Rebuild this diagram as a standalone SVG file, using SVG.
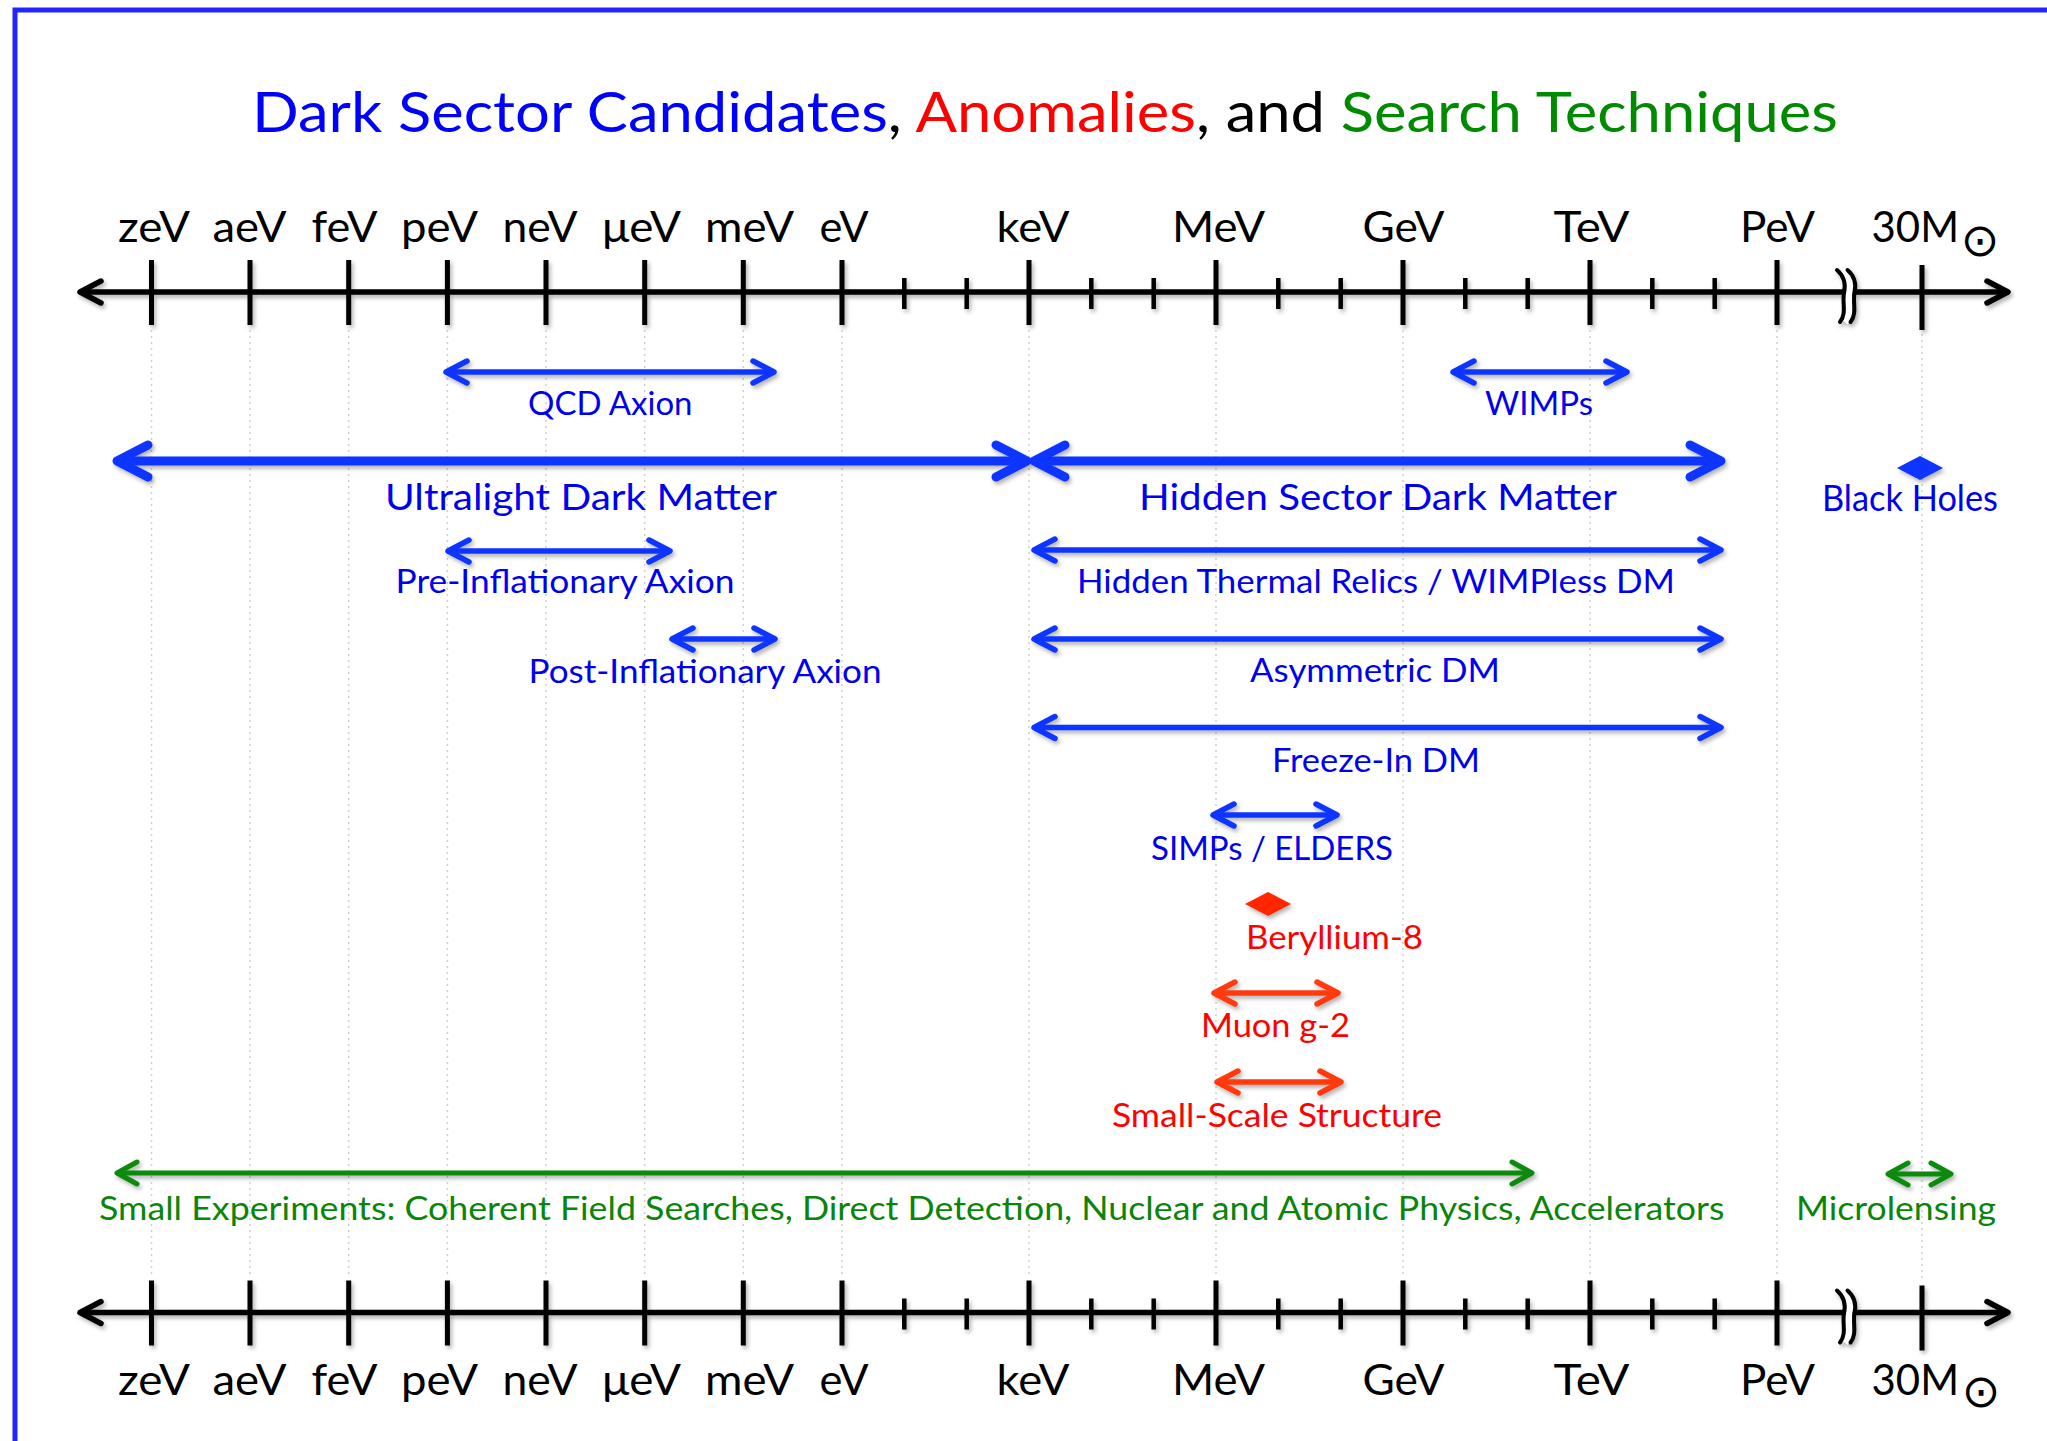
<svg xmlns="http://www.w3.org/2000/svg" width="2047" height="1441" viewBox="0 0 2047 1441">
  <defs>
    <style>
      text { font-family: Lato, "Open Sans", "Liberation Sans", sans-serif; }
      .tick { font-size: 42px; fill: #000; }
      .big { font-size: 37px; }
      .med { font-size: 33px; }
      .blue { fill: #0000f0; }
      .red { fill: #ff0000; }
      .green { fill: #0a850a; }
      .sun { font-family: "DejaVu Sans", sans-serif; font-size: 46px; fill: #000; }
      .sh { filter: url(#sh); }
      .grid { stroke: #cfcfcf; stroke-width: 1.5; stroke-dasharray: 2 4; fill: none; }
      .ax { stroke: #000; stroke-width: 5.5; fill: none; marker-start: url(#mK); marker-end: url(#mK); }
      .major { stroke: #000; stroke-width: 5; fill: none; }
      .minor { stroke: #000; stroke-width: 4.5; fill: none; }
      .ab { stroke: #0a36ff; stroke-width: 5.5; fill: none; marker-start: url(#mB); marker-end: url(#mB); }
      .abb { stroke: #0a36ff; stroke-width: 9; fill: none; marker-start: url(#mBB); marker-end: url(#mBB); }
      .ar { stroke: #ff3a10; stroke-width: 5.5; fill: none; marker-start: url(#mR); marker-end: url(#mR); }
      .ag { stroke: #0b8a0b; stroke-width: 5; fill: none; marker-start: url(#mG); marker-end: url(#mG); }
    </style>
    <filter id="sh" filterUnits="userSpaceOnUse" x="0" y="0" width="2047" height="1441">
      <feDropShadow dx="2" dy="3" stdDeviation="2" flood-color="#000" flood-opacity="0.3"/>
    </filter>
    <marker id="mK" markerUnits="userSpaceOnUse" orient="auto-start-reverse" overflow="visible" refX="0" refY="0" markerWidth="1" markerHeight="1">
      <path d="M-21,-11 L0,0 L-21,11" fill="none" stroke="#000" stroke-width="5.5" stroke-linecap="round" stroke-linejoin="round"/>
    </marker>
    <marker id="mB" markerUnits="userSpaceOnUse" orient="auto-start-reverse" overflow="visible" refX="0" refY="0" markerWidth="1" markerHeight="1">
      <path d="M-21,-11 L0,0 L-21,11" fill="none" stroke="#0a36ff" stroke-width="5.5" stroke-linecap="round" stroke-linejoin="round"/>
    </marker>
    <marker id="mBB" markerUnits="userSpaceOnUse" orient="auto-start-reverse" overflow="visible" refX="0" refY="0" markerWidth="1" markerHeight="1">
      <path d="M-31,-16 L0,0 L-31,16" fill="none" stroke="#0a36ff" stroke-width="9" stroke-linecap="round" stroke-linejoin="round"/>
    </marker>
    <marker id="mR" markerUnits="userSpaceOnUse" orient="auto-start-reverse" overflow="visible" refX="0" refY="0" markerWidth="1" markerHeight="1">
      <path d="M-21,-11 L0,0 L-21,11" fill="none" stroke="#ff3a10" stroke-width="5.5" stroke-linecap="round" stroke-linejoin="round"/>
    </marker>
    <marker id="mG" markerUnits="userSpaceOnUse" orient="auto-start-reverse" overflow="visible" refX="0" refY="0" markerWidth="1" markerHeight="1">
      <path d="M-20,-11 L0,0 L-20,11" fill="none" stroke="#0b8a0b" stroke-width="5" stroke-linecap="round" stroke-linejoin="round"/>
    </marker>

    <!-- energy axis: line, decade ticks, sub-ticks, scale break, 30 solar mass tick -->
    <g id="axis">
      <path class="ax" d="M80,292 H2008"/>
      <path class="major" d="M151.5,260V325 M250,260V325 M348.7,260V325 M447.4,260V325 M546,260V325 M644.7,260V325 M743.3,260V325 M842,260V325 M1029,260V325 M1216,260V325 M1403,260V325 M1590,260V325 M1777,260V325 M1922,265V330"/>
      <path class="minor" d="M904.3,278V309 M966.7,278V309 M1091.3,278V309 M1153.7,278V309 M1278.3,278V309 M1340.7,278V309 M1465.3,278V309 M1527.7,278V309 M1652.3,278V309 M1714.7,278V309"/>
      <path d="M1842,270 C1849,276 1851,284 1849,293 C1847,303 1852,313 1845,322" fill="none" stroke="#fff" stroke-width="7"/>
      <path d="M1837,270 C1844,276 1846,284 1844,293 C1842,303 1847,313 1840,322 M1847.5,270 C1854.5,276 1856.5,284 1854.5,293 C1852.5,303 1857.5,313 1850.5,322" fill="none" stroke="#000" stroke-width="4" stroke-linecap="round"/>
    </g>
  </defs>

  <rect x="0" y="0" width="2047" height="1441" fill="#fff"/>
  <rect id="frame" x="15" y="10" width="2100" height="1500" fill="none" stroke="#2424ff" stroke-width="5"/>

  <g id="title">
    <text x="252" y="132" font-size="56" textLength="1586" lengthAdjust="spacingAndGlyphs"><tspan fill="#0000ff">Dark Sector Candidates</tspan><tspan fill="#000">, </tspan><tspan fill="#ff0000">Anomalies</tspan><tspan fill="#000">, and </tspan><tspan fill="#008a00">Search Techniques</tspan></text>
  </g>

  <g id="gridlines">
    <path class="grid" d="M151.5,330V1278 M250,330V1278 M348.7,330V1278 M447.4,330V1278 M546,330V1278 M644.7,330V1278 M743.3,330V1278 M842,330V1278 M1029,330V1278 M1216,330V1278 M1403,330V1278 M1590,330V1278 M1777,330V1278 M1922,334V1282"/>
  </g>

  <g id="axis-top" class="sh">
    <use href="#axis"/>
  </g>
  <g id="axis-bottom" class="sh">
    <use href="#axis" transform="translate(0,1020.5)"/>
  </g>

  <g id="labels-top" text-anchor="middle">
    <text class="tick" x="154" y="242" textLength="72" lengthAdjust="spacingAndGlyphs">zeV</text>
    <text class="tick" x="249.5" y="242" textLength="74" lengthAdjust="spacingAndGlyphs">aeV</text>
    <text class="tick" x="344.5" y="242" textLength="66" lengthAdjust="spacingAndGlyphs">feV</text>
    <text class="tick" x="439.5" y="242" textLength="77" lengthAdjust="spacingAndGlyphs">peV</text>
    <text class="tick" x="540" y="242" textLength="75" lengthAdjust="spacingAndGlyphs">neV</text>
    <text class="tick" x="641.5" y="242" textLength="79" lengthAdjust="spacingAndGlyphs">μeV</text>
    <text class="tick" x="749.5" y="242" textLength="89" lengthAdjust="spacingAndGlyphs">meV</text>
    <text class="tick" x="844" y="242" textLength="49" lengthAdjust="spacingAndGlyphs">eV</text>
    <text class="tick" x="1033" y="242" textLength="73" lengthAdjust="spacingAndGlyphs">keV</text>
    <text class="tick" x="1218.5" y="242" textLength="93" lengthAdjust="spacingAndGlyphs">MeV</text>
    <text class="tick" x="1403.5" y="242" textLength="82" lengthAdjust="spacingAndGlyphs">GeV</text>
    <text class="tick" x="1591.5" y="242" textLength="76" lengthAdjust="spacingAndGlyphs">TeV</text>
    <text class="tick" x="1777.5" y="242" textLength="75" lengthAdjust="spacingAndGlyphs">PeV</text>
    <text class="tick" x="1915.3" y="242" textLength="87.5" lengthAdjust="spacingAndGlyphs">30M</text>
    <text class="sun" x="1980" y="256">⊙</text>
  </g>

  <g id="labels-bottom" text-anchor="middle">
    <text class="tick" x="154" y="1395" textLength="72" lengthAdjust="spacingAndGlyphs">zeV</text>
    <text class="tick" x="249.5" y="1395" textLength="74" lengthAdjust="spacingAndGlyphs">aeV</text>
    <text class="tick" x="344.5" y="1395" textLength="66" lengthAdjust="spacingAndGlyphs">feV</text>
    <text class="tick" x="439.5" y="1395" textLength="77" lengthAdjust="spacingAndGlyphs">peV</text>
    <text class="tick" x="540" y="1395" textLength="75" lengthAdjust="spacingAndGlyphs">neV</text>
    <text class="tick" x="641.5" y="1395" textLength="79" lengthAdjust="spacingAndGlyphs">μeV</text>
    <text class="tick" x="749.5" y="1395" textLength="89" lengthAdjust="spacingAndGlyphs">meV</text>
    <text class="tick" x="844" y="1395" textLength="49" lengthAdjust="spacingAndGlyphs">eV</text>
    <text class="tick" x="1033" y="1395" textLength="73" lengthAdjust="spacingAndGlyphs">keV</text>
    <text class="tick" x="1218.5" y="1395" textLength="93" lengthAdjust="spacingAndGlyphs">MeV</text>
    <text class="tick" x="1403.5" y="1395" textLength="82" lengthAdjust="spacingAndGlyphs">GeV</text>
    <text class="tick" x="1591.5" y="1395" textLength="76" lengthAdjust="spacingAndGlyphs">TeV</text>
    <text class="tick" x="1777.5" y="1395" textLength="75" lengthAdjust="spacingAndGlyphs">PeV</text>
    <text class="tick" x="1915.3" y="1395" textLength="87.5" lengthAdjust="spacingAndGlyphs">30M</text>
    <text class="sun" x="1981" y="1407">⊙</text>
  </g>

  <!-- mass ranges: each candidate, anomaly and technique with its bar and label -->
  <g id="qcd-axion">
    <path class="ab sh" d="M446,372 H774"/>
    <text class="med blue" x="528" y="415" textLength="164.5" lengthAdjust="spacingAndGlyphs">QCD Axion</text>
  </g>
  <g id="wimps">
    <path class="ab sh" d="M1453,372 H1627"/>
    <text class="med blue" x="1485" y="415" textLength="108" lengthAdjust="spacingAndGlyphs">WIMPs</text>
  </g>
  <g id="ultralight-dm">
    <path class="abb sh" d="M117,461 H1027"/>
    <text class="big blue" x="385" y="510" textLength="392" lengthAdjust="spacingAndGlyphs">Ultralight Dark Matter</text>
  </g>
  <g id="hidden-sector-dm">
    <path class="abb sh" d="M1034,461 H1721"/>
    <text class="big blue" x="1139" y="510" textLength="478" lengthAdjust="spacingAndGlyphs">Hidden Sector Dark Matter</text>
  </g>
  <g id="black-holes">
    <polygon class="sh" points="1897,468 1920,456 1943,468 1920,480" fill="#0a36ff"/>
    <text class="big blue" x="1822" y="510.5" textLength="176" lengthAdjust="spacingAndGlyphs">Black Holes</text>
  </g>
  <g id="pre-inflationary-axion">
    <path class="ab sh" d="M448,551 H670"/>
    <text class="med blue" x="395.5" y="593" textLength="339" lengthAdjust="spacingAndGlyphs">Pre-Inflationary Axion</text>
  </g>
  <g id="hidden-thermal-relics">
    <path class="ab sh" d="M1034,550 H1721"/>
    <text class="med blue" x="1077" y="593" textLength="598" lengthAdjust="spacingAndGlyphs">Hidden Thermal Relics / WIMPless DM</text>
  </g>
  <g id="post-inflationary-axion">
    <path class="ab sh" d="M672,639 H775"/>
    <text class="med blue" x="528.5" y="683" textLength="353" lengthAdjust="spacingAndGlyphs">Post-Inflationary Axion</text>
  </g>
  <g id="asymmetric-dm">
    <path class="ab sh" d="M1034,639 H1721"/>
    <text class="med blue" x="1250" y="682" textLength="250" lengthAdjust="spacingAndGlyphs">Asymmetric DM</text>
  </g>
  <g id="freeze-in-dm">
    <path class="ab sh" d="M1034,727.5 H1721"/>
    <text class="med blue" x="1272" y="771.5" textLength="208" lengthAdjust="spacingAndGlyphs">Freeze-In DM</text>
  </g>
  <g id="simps-elders">
    <path class="ab sh" d="M1213,815 H1337"/>
    <text class="med blue" x="1151" y="860" textLength="242" lengthAdjust="spacingAndGlyphs">SIMPs / ELDERS</text>
  </g>
  <g id="beryllium-8">
    <polygon class="sh" points="1245,904 1268,892 1291,904 1268,916" fill="#ff2800"/>
    <text class="med red" x="1246" y="949" textLength="177" lengthAdjust="spacingAndGlyphs">Beryllium-8</text>
  </g>
  <g id="muon-g-2">
    <path class="ar sh" d="M1214,993 H1338"/>
    <text class="med red" x="1201" y="1037" textLength="149" lengthAdjust="spacingAndGlyphs">Muon g-2</text>
  </g>
  <g id="small-scale-structure">
    <path class="ar sh" d="M1217,1082 H1341"/>
    <text class="med red" x="1112" y="1126.5" textLength="330" lengthAdjust="spacingAndGlyphs">Small-Scale Structure</text>
  </g>
  <g id="small-experiments">
    <path class="ag sh" d="M117,1173 H1532"/>
    <text class="med green" x="99" y="1220" textLength="1625.5" lengthAdjust="spacingAndGlyphs">Small Experiments: Coherent Field Searches, Direct Detection, Nuclear and Atomic Physics, Accelerators</text>
  </g>
  <g id="microlensing">
    <path class="ag sh" d="M1888,1174 H1951"/>
    <text class="med green" x="1796" y="1220" textLength="200" lengthAdjust="spacingAndGlyphs">Microlensing</text>
  </g>
</svg>
